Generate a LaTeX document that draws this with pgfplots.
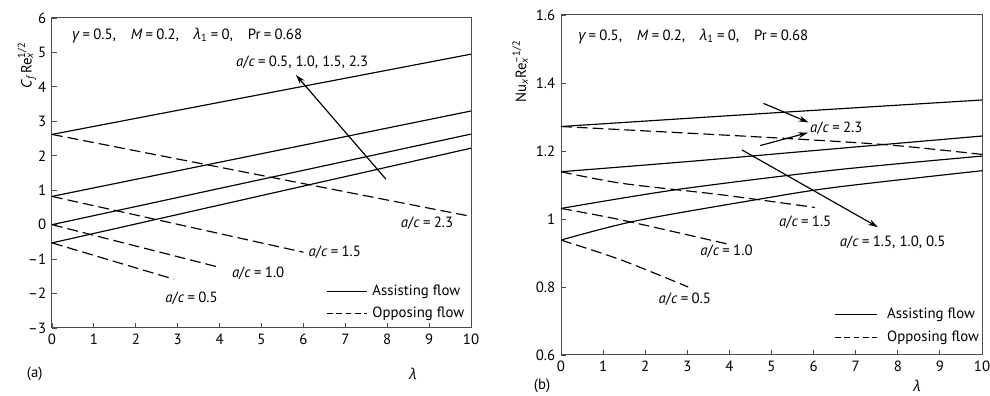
\documentclass[border=0pt]{standalone}
\usepackage{pgfplots}
\pgfplotsset{compat=1.18}
\usepackage{fontspec}
\setmainfont{PT Sans}
\newfontfamily\grk{Open Sans}
\usetikzlibrary{arrows.meta}
\newcommand{\eq}{\hspace{0.22em}=\hspace{0.22em}}
\newcommand{\ac}{\textit{a}/\textit{c}\eq}
\newcommand{\glam}{{\grk\itshape λ}}
\newcommand{\ggam}{{\grk\itshape γ}}
\newcommand{\params}{\ggam\eq 0.5,\hspace{1em}\textit{M}\eq 0.2,\hspace{1em}\glam\textsubscript{1}\eq 0,\hspace{1em}Pr\eq 0.68}
\tikzset{
  ass/.style={black, line width=0.7pt},
  opp/.style={black, line width=0.7pt, dash pattern=on 6.5pt off 3pt},
  legopp/.style={black, line width=0.7pt, dash pattern=on 3.4pt off 2.2pt},
  arr/.style={line width=0.7pt,-{Stealth[length=6pt,width=3.5pt]}},
}
\begin{document}
\begin{tikzpicture}
\path[use as bounding box] (0,0) rectangle (594pt,237.6pt);
\pgfplotsset{
  every axis/.append style={
    scale only axis, clip=false,
    axis line style={gray!60!black, line width=0.6pt},
    tick style={gray!60!black, line width=0.5pt},
    tick align=inside, tick pos=left,
    major tick length=3pt,
    font=\fontsize{8.9}{10}\selectfont,
    tick label style={font=\fontsize{8.9}{10}\selectfont},
    /pgf/number format/assume math mode=true,
    xmin=0, xmax=10, xtick={0,...,10},
  },
}
% ---------- (a)
\begin{axis}[at={(31.2pt,40.8pt)}, anchor=south west,
  width=251.4pt, height=186pt,
  ymin=-3, ymax=6, ytick={-3,...,6},
  yticklabels={–3,–2,–1,0,1,2,3,4,5,6}]
\addplot[ass] coordinates {(0,2.62) (10,4.95)};
\addplot[ass] coordinates {(0,0.82) (10,3.30)};
\addplot[ass] coordinates {(0,0.00) (10,2.63)};
\addplot[ass] coordinates {(0,-0.53) (10,2.22)};
\addplot[opp] coordinates {(0,2.62) (10,0.24)};
\addplot[opp] coordinates {(0,0.82) (6,-0.80)};
\addplot[opp] coordinates {(0,0.00) (4,-1.24)};
\addplot[opp] coordinates {(0,-0.53) (2.9,-1.58)};
\node at (axis cs:8.95,0.03) {\ac 2.3};
\node at (axis cs:6.75,-0.80) {\ac 1.5};
\node at (axis cs:4.92,-1.42) {\ac 1.0};
\node at (axis cs:3.33,-2.15) {\ac 0.5};
\node at (axis cs:5.97,4.70) {\ac 0.5, 1.0, 1.5, 2.3};
\draw[arr] (axis cs:7.97,1.32) -- (axis cs:5.82,4.35);
\node[anchor=west, inner sep=0pt] at (axis cs:0.48,5.5) {\params};
\draw[ass] (axis cs:6.56,-1.95) -- (axis cs:7.52,-1.95);
\node[anchor=west, inner sep=0pt] at (axis cs:7.64,-1.95) {Assisting flow};
\draw[legopp] (axis cs:6.56,-2.59) -- (axis cs:7.52,-2.59);
\node[anchor=west, inner sep=0pt] at (axis cs:7.64,-2.59) {Opposing flow};
\node at (axis cs:8.62,-4.34) {\glam};
\node at (axis cs:-0.41,-4.34) {(a)};
\node[rotate=90] at (axis cs:-0.6,4.49) {\textit{C}\textsubscript{\textit{f}}Re\rlap{\textsuperscript{1/2}}\textsubscript{\textit{x}}};
\end{axis}
% ---------- (b)
\begin{axis}[at={(336.6pt,24.6pt)}, anchor=south west,
  width=252.6pt, height=204pt,
  ymin=0.6, ymax=1.6, ytick={0.6,0.8,1,1.2,1.4,1.6}]
\addplot[ass, smooth] coordinates {(0,1.272) (4.9,1.311) (10,1.350)};
\addplot[ass, smooth] coordinates {(0,1.139) (3.02,1.169) (5.8,1.199) (10,1.244)};
\addplot[ass, smooth] coordinates {(0,1.031) (2.78,1.087) (6.5,1.144) (10,1.185)};
\addplot[ass, smooth] coordinates {(0,0.938) (1.76,0.994) (4.6,1.056) (6.5,1.093) (10,1.142)};
\addplot[opp, smooth] coordinates {(0,1.272) (4.9,1.240) (7.76,1.218) (10,1.190)};
\addplot[opp, smooth] coordinates {(0,1.139) (1.44,1.105) (3.82,1.071) (6.03,1.034)};
\addplot[opp, smooth] coordinates {(0,1.031) (1.44,0.997) (3.97,0.926)};
\addplot[opp, smooth] coordinates {(0,0.938) (1.44,0.879) (3.02,0.800)};
\node[anchor=west, inner sep=0pt] at (axis cs:5.91,1.267) {\ac 2.3};
\node at (axis cs:5.80,0.989) {\ac 1.5};
\node at (axis cs:3.93,0.904) {\ac 1.0};
\node at (axis cs:2.94,0.764) {\ac 0.5};
\node at (axis cs:7.88,0.930) {\ac 1.5, 1.0, 0.5};
\draw[arr] (axis cs:4.81,1.340) -- (axis cs:5.88,1.284);
\draw[arr] (axis cs:4.73,1.216) -- (axis cs:5.87,1.254);
\draw[arr] (axis cs:4.30,1.203) -- (axis cs:7.53,0.976);
\node[anchor=west, inner sep=0pt] at (axis cs:0.41,1.536) {\params};
\draw[ass] (axis cs:6.51,0.718) -- (axis cs:7.51,0.718);
\node[anchor=west, inner sep=0pt] at (axis cs:7.74,0.718) {Assisting flow};
\draw[legopp] (axis cs:6.51,0.651) -- (axis cs:7.51,0.651);
\node[anchor=west, inner sep=0pt] at (axis cs:7.74,0.651) {Opposing flow};
\node at (axis cs:8.46,0.508) {\glam};
\node at (axis cs:-0.45,0.508) {(b)};
\node[rotate=90] at (axis cs:-0.97,1.409) {Nu\textsubscript{\textit{x}}Re\rlap{\textsuperscript{–1/2}}\textsubscript{\textit{x}}};
\end{axis}
\end{tikzpicture}
\end{document}
